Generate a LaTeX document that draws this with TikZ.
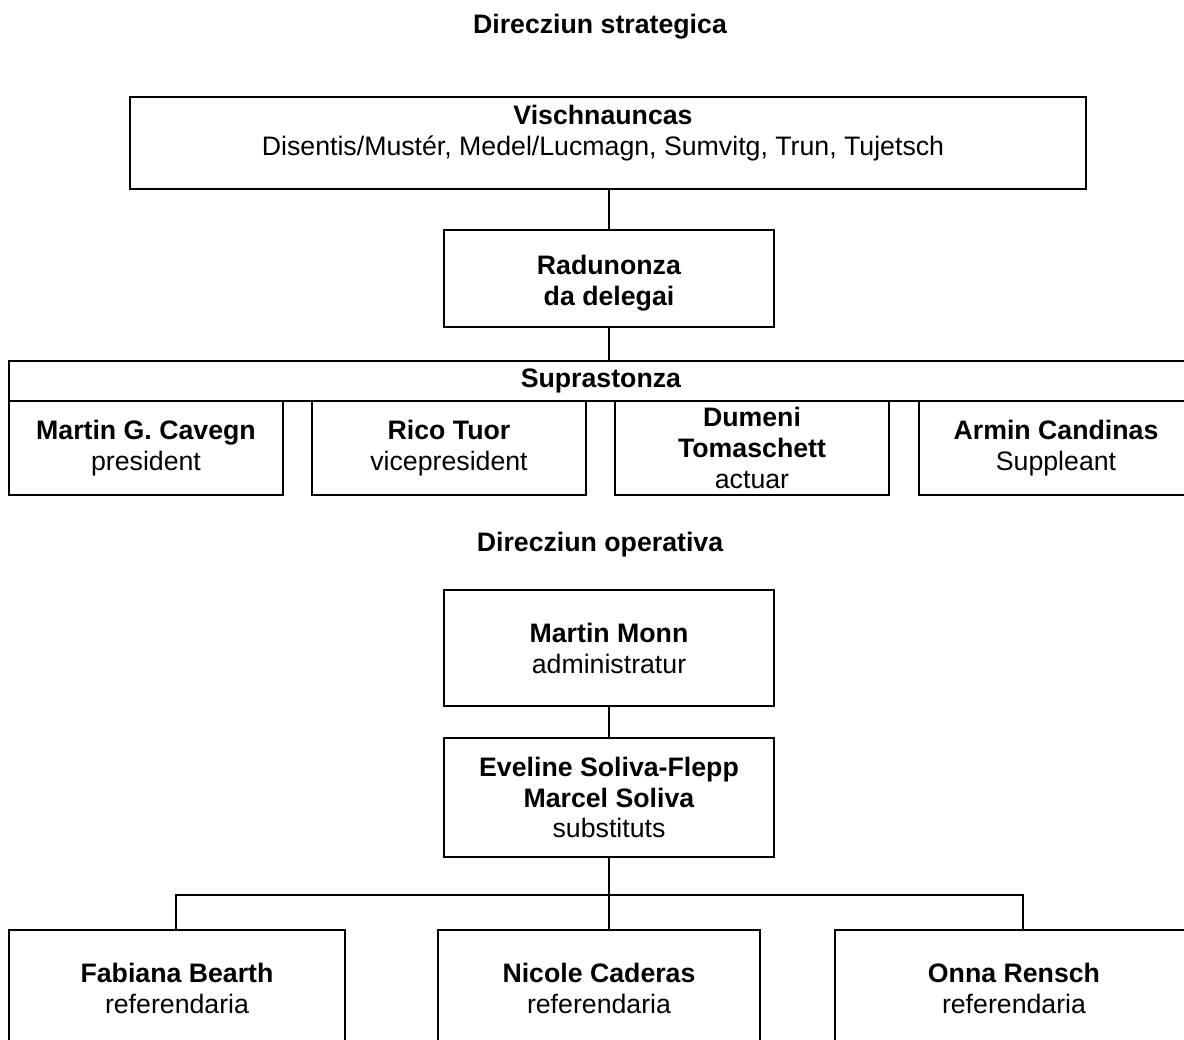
\documentclass[tikz,border=0pt]{standalone}
\usepackage{fontspec}
\setmainfont{Liberation Sans}
\usetikzlibrary{positioning}

\begin{document}
\begin{tikzpicture}[
    x=0.02cm, y=0.02cm,
    font=\fontsize{15.2}{17.6}\selectfont,
    box/.style={rectangle, draw, line width=1.1pt, align=center, inner sep=0pt},
    title/.style={font=\fontsize{15.2}{17.6}\selectfont\bfseries},
    link/.style={line width=1.1pt}
]
\useasboundingbox (0,0) rectangle (1184,1039);
\clip (0,0) rectangle (1184,1039);

% Strategic part
\node[title] (strat) at (600,1012) {Direcziun strategica};
\node[box, minimum width=19.12cm, minimum height=1.84cm] (vischn) at (608,896) {};
\node[align=center] (vischntext) at (603,905.5)
    {\textbf{Vischnauncas}\\Disentis/Mustér, Medel/Lucmagn, Sumvitg, Trun, Tujetsch};
\node[box, minimum width=6.6cm, minimum height=1.94cm] (radun) at (609,760.5) {};
\node[align=center] (raduntext) at (609,756)
    {\textbf{Radunonza}\\\textbf{da delegai}};

% Board
\node[box, minimum width=23.68cm, minimum height=0.8cm] (supra) at (601,658) {\textbf{Suprastonza}};
\node[box, minimum width=5.48cm, minimum height=1.88cm] (pres) at (146,591)
    {\textbf{Martin G. Cavegn}\\president};
\node[box, minimum width=5.48cm, minimum height=1.88cm] (vice) at (449,591)
    {\textbf{Rico Tuor}\\vicepresident};
\node[box, minimum width=5.48cm, minimum height=1.88cm] (actuar) at (752,591)
    {\textbf{Dumeni}\\\textbf{Tomaschett}\\actuar};
\node[box, minimum width=5.48cm, minimum height=1.88cm] (suppl) at (1056,591)
    {\textbf{Armin Candinas}\\Suppleant};

% Operative part
\node[title] (oper) at (600,494) {Direcziun operativa};
\node[box, minimum width=6.6cm, minimum height=2.32cm] (admin) at (609,391)
    {\textbf{Martin Monn}\\administratur};
\node[box, minimum width=6.6cm, minimum height=2.38cm] (subst) at (609,241.5)
    {\textbf{Eveline Soliva-Flepp}\\\textbf{Marcel Soliva}\\substituts};

% Referendarias
\node[box, minimum width=6.72cm, minimum height=2.34cm] (ref1) at (177,50.5)
    {\textbf{Fabiana Bearth}\\referendaria};
\node[box, minimum width=6.44cm, minimum height=2.34cm] (ref2) at (599,50.5)
    {\textbf{Nicole Caderas}\\referendaria};
\node[box, minimum width=7.16cm, minimum height=2.34cm] (ref3) at (1014,50.5)
    {\textbf{Onna Rensch}\\referendaria};

\coordinate (busL) at (176,144);
\coordinate (busR) at (1023,144);

% Connections
\draw[link] (vischn.south -| radun.south) -- (radun.north);
\draw[link] (radun.south) -- (radun.south |- supra.north);
\draw[link] (admin.south) -- (subst.north);
\draw[link] (subst.south) -- (subst.south |- ref2.north);
\draw[link] (busL |- ref1.north) -- (busL) -- (busR) -- (busR |- ref3.north);

\end{tikzpicture}
\end{document}
